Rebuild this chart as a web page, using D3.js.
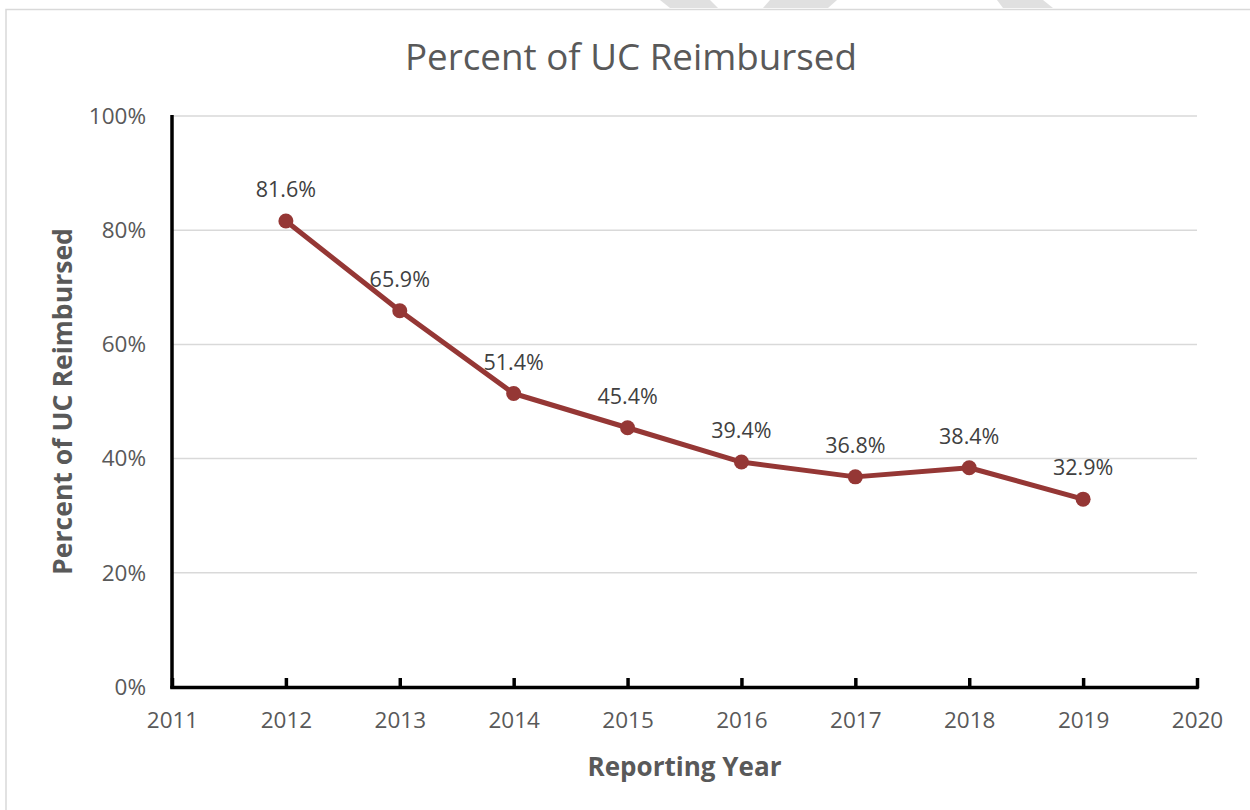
<!DOCTYPE html>
<html>
<head>
<meta charset="utf-8">
<script src="https://cdn.jsdelivr.net/npm/d3@7"></script>
<style>
    body { margin: 0; background: #fff; }
    svg { display: block; font-family: "Open Sans", sans-serif; }
</style>
</head>
<body>
<div id="chart"></div>
<script>
// chart data
const years = [2012, 2013, 2014, 2015, 2016, 2017, 2018, 2019];
const reimbursed = [81.6, 65.9, 51.4, 45.4, 39.4, 36.8, 38.4, 32.9];
const yearTicks = [2011, 2012, 2013, 2014, 2015, 2016, 2017, 2018, 2019, 2020];
const percentTicks = [0, 20, 40, 60, 80, 100];

const title = "Percent of UC Reimbursed";
const xTitle = "Reporting Year";
const yTitle = "Percent of UC Reimbursed";

const width = 1250, height = 810;
const margin = { top: 116, right: 53, bottom: 123, left: 172 };

const lineColor = "#953735";
const gridColor = "#d9d9d9";
const textColor = "#595959";

const svg = d3.select("#chart").append("svg")
    .attr("width", width)
    .attr("height", height);

// faint watermark pieces peeking in above the chart frame
const watermark = [
    [[660, 0], [710, 0], [718, 8], [670, 8]],
    [[770, 0], [837, 0], [828, 8], [763, 8]],
    [[997, 0], [1043, 0], [1053, 8], [1003, 8]]
];
svg.selectAll("polygon.wm")
    .data(watermark)
    .join("polygon")
    .attr("class", "wm")
    .attr("points", d => d.map(p => p.join(",")).join(" "))
    .attr("fill", "#e0e0e0");

// chart frame (runs off the right and bottom edge)
svg.append("rect")
    .attr("x", 6)
    .attr("y", 9.5)
    .attr("width", width + 20)
    .attr("height", height + 20)
    .attr("fill", "none")
    .attr("stroke", gridColor)
    .attr("stroke-width", 1.5);

const x = d3.scaleLinear()
    .domain([2011, 2020])
    .range([margin.left, width - margin.right]);

const y = d3.scaleLinear()
    .domain([0, 100])
    .range([height - margin.bottom, margin.top]);

// shrink/grow a text's font size until it spans the given width
function fitWidth(sel, target) {
    const node = sel.node();
    const size = parseFloat(sel.attr("font-size"));
    const w = node.getComputedTextLength();
    sel.attr("font-size", (size * target / w).toFixed(2));
}

// gridlines
svg.append("g")
    .selectAll("line")
    .data(percentTicks.filter(d => d > 0))
    .join("line")
    .attr("x1", x.range()[0])
    .attr("x2", x.range()[1])
    .attr("y1", d => y(d))
    .attr("y2", d => y(d))
    .attr("stroke", gridColor)
    .attr("stroke-width", 1.5);

// y axis
const yAxis = svg.append("g")
    .attr("transform", `translate(${margin.left},0)`)
    .call(d3.axisLeft(y).tickValues(percentTicks).tickSize(0).tickPadding(26).tickFormat(d => d + "%"));
yAxis.select(".domain").remove();
yAxis.selectAll("text")
    .attr("font-family", "Open Sans")
    .attr("font-size", 22.5)
    .attr("fill", textColor);
svg.append("line")
    .attr("x1", margin.left).attr("x2", margin.left)
    .attr("y1", y(100) - 1).attr("y2", y(0) + 1.5)
    .attr("stroke", "#000")
    .attr("stroke-width", 3.5);

// x axis
const xAxis = svg.append("g")
    .attr("transform", `translate(0,${y(0)})`)
    .call(d3.axisBottom(x).tickValues(yearTicks).tickSize(0).tickPadding(25).tickFormat(d3.format("d")));
xAxis.select(".domain").remove();
xAxis.selectAll("text")
    .attr("font-family", "Open Sans")
    .attr("font-size", 22.5)
    .attr("fill", textColor);
xAxis.selectAll(".tick")
    .append("line")
    .attr("y1", 1)
    .attr("y2", -9)
    .attr("stroke", "#000")
    .attr("stroke-width", 3.5);
svg.append("line")
    .attr("x1", margin.left - 1.75).attr("x2", x(2020) + 1.75)
    .attr("y1", y(0) + 0.5).attr("y2", y(0) + 0.5)
    .attr("stroke", "#000")
    .attr("stroke-width", 3.5);

// series
const points = years.map((yr, i) => ({ year: yr, value: reimbursed[i] }));

const line = d3.line()
    .x(d => x(d.year))
    .y(d => y(d.value));

svg.append("path")
    .datum(points)
    .attr("d", line)
    .attr("fill", "none")
    .attr("stroke", lineColor)
    .attr("stroke-width", 5)
    .attr("stroke-linejoin", "round");

svg.append("g")
    .selectAll("circle")
    .data(points)
    .join("circle")
    .attr("cx", d => x(d.year))
    .attr("cy", d => y(d.value))
    .attr("r", 7.5)
    .attr("fill", lineColor);

svg.append("g")
    .selectAll("text")
    .data(points)
    .join("text")
    .attr("x", d => x(d.year))
    .attr("y", d => y(d.value) - 24)
    .attr("text-anchor", "middle")
    .attr("font-size", 21.5)
    .attr("fill", "#404040")
    .text(d => d.value.toFixed(1) + "%");

// titles
const t = svg.append("text")
    .attr("x", 631)
    .attr("y", 70)
    .attr("text-anchor", "middle")
    .attr("font-size", 36)
    .attr("fill", textColor)
    .text(title);
fitWidth(t, 452);

const xt = svg.append("text")
    .attr("x", (x.range()[0] + x.range()[1]) / 2)
    .attr("y", 776)
    .attr("text-anchor", "middle")
    .attr("font-size", 24)
    .attr("font-weight", "bold")
    .attr("fill", textColor)
    .text(xTitle);
fitWidth(xt, 194);

const yt = svg.append("text")
    .attr("transform", `translate(72,${(y.range()[0] + y.range()[1]) / 2}) rotate(-90)`)
    .attr("text-anchor", "middle")
    .attr("font-size", 24)
    .attr("font-weight", "bold")
    .attr("fill", textColor)
    .text(yTitle);
fitWidth(yt, 347);
</script>
</body>
</html>
